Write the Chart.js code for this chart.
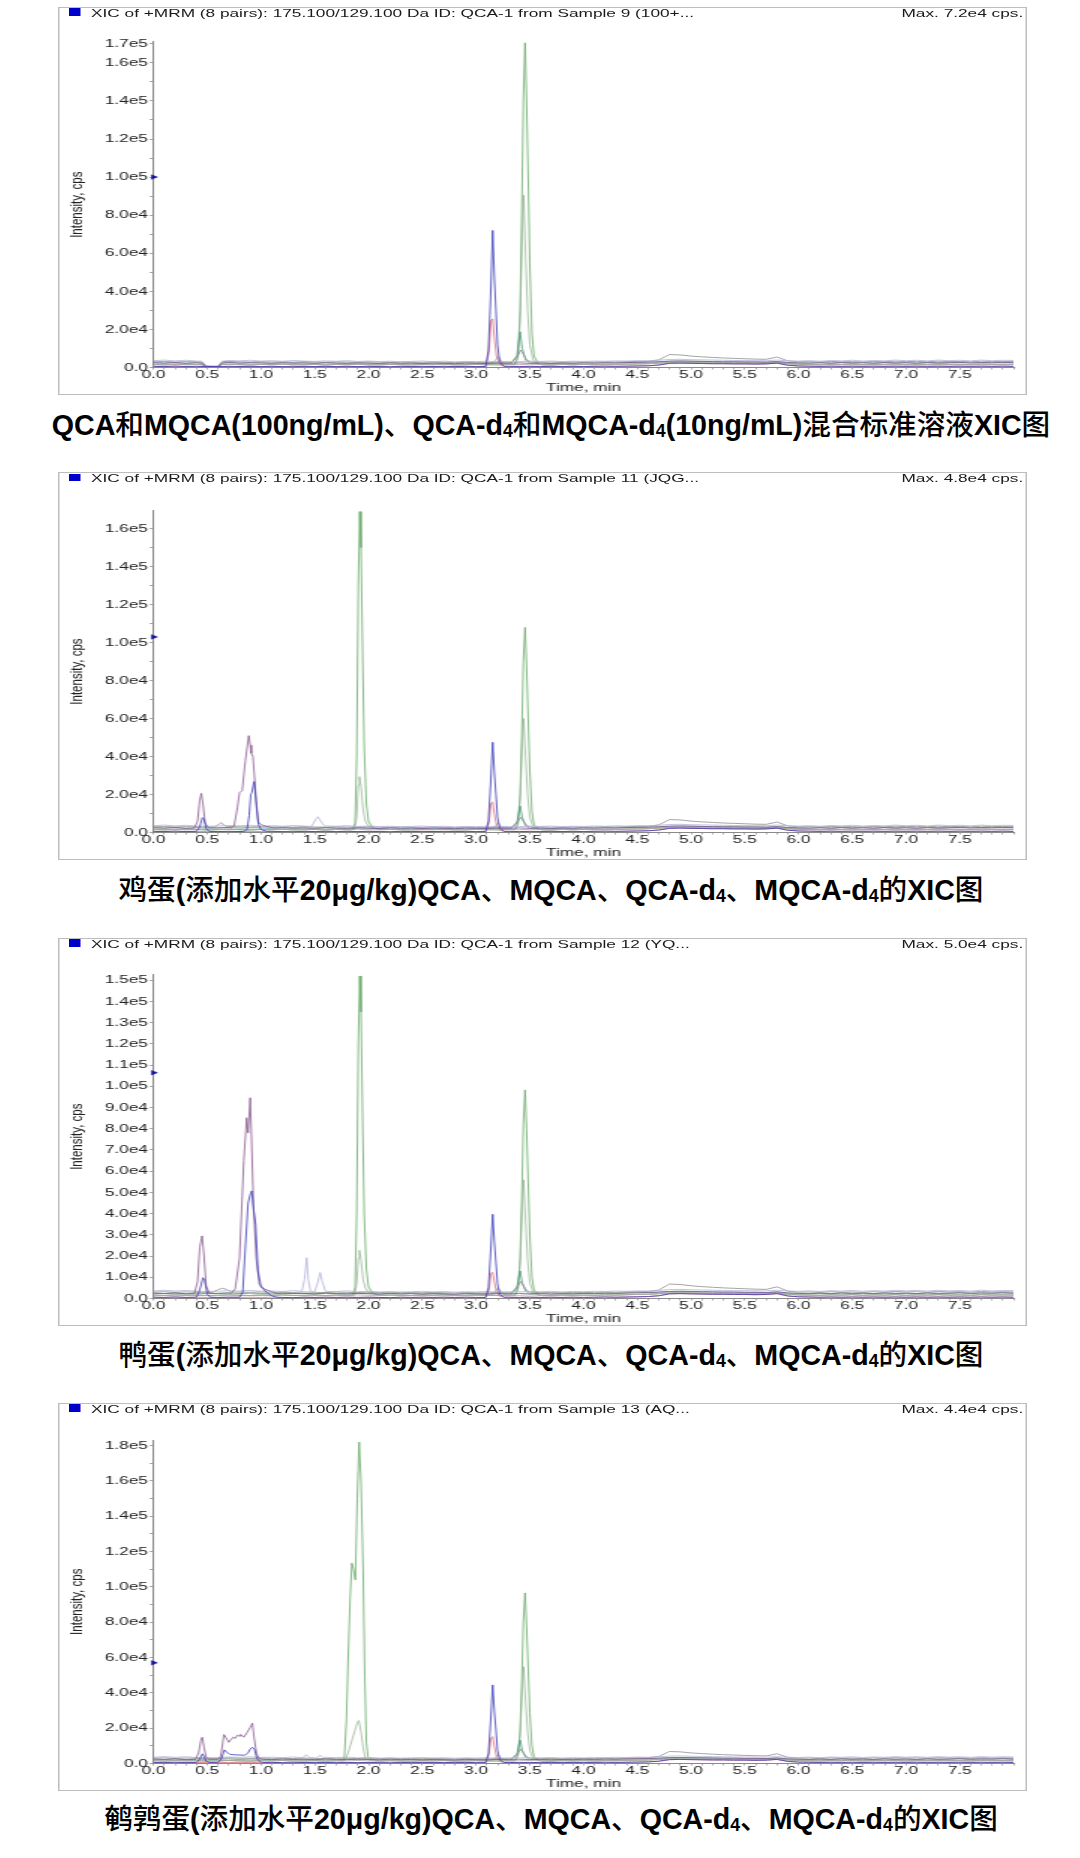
<!DOCTYPE html>
<html>
<head>
<meta charset="utf-8">
<script src="https://cdn.jsdelivr.net/npm/chart.js@4/dist/chart.umd.min.js"></script>
<style>
  html,body{margin:0;padding:0;background:#fff;}
  body{width:1080px;height:1858px;position:relative;overflow:hidden;}
  .panel{position:absolute;left:58px;width:646px;height:388px;transform:scaleX(1.5);transform-origin:0 0;}
  .frame{position:absolute;left:0;top:0;width:646px;height:388px;box-sizing:border-box;border:1px solid #bdbdbd;}
  .panel canvas{position:absolute;left:0;top:0;}
  .sq{position:absolute;left:7.3px;top:1.3px;width:7.3px;height:7.7px;background:#0000cc;}
  .hdr,.mx{position:absolute;top:0;font-family:'Liberation Sans',Arial,sans-serif;font-size:11.5px;line-height:12px;color:#1a1a1a;white-space:nowrap;}
  .hdr{left:22px;}
  .mx{right:2.5px;}
  .cap{position:absolute;left:1px;width:1100px;text-align:center;white-space:nowrap;
       font-family:'Liberation Sans',Arial,'Noto Sans CJK SC',sans-serif;font-weight:bold;font-size:28.6px;line-height:34px;color:#000;}
  .cap .z{font-family:'Noto Sans CJK SC',sans-serif;font-weight:500;}
  .cap .s{font-size:0.62em;vertical-align:-0.12em;}
</style>
</head>
<body>

<div class="panel" style="top:7px">
  <div class="frame"></div>
  <canvas id="c0" width="646" height="388"></canvas>
  <div class="sq"></div>
  <div class="hdr" id="h0"></div>
  <div class="mx" id="m0"></div>
</div>
<div class="cap" style="top:406px">QCA<span class="z">和</span>MQCA(100ng/mL)<span class="z">、</span>QCA-d<span class="s">4</span><span class="z">和</span>MQCA-d<span class="s">4</span>(10ng/mL)<span class="z">混合标准溶液</span>XIC<span class="z">图</span></div>

<div class="panel" style="top:472.3px">
  <div class="frame"></div>
  <canvas id="c1" width="646" height="388"></canvas>
  <div class="sq"></div>
  <div class="hdr" id="h1"></div>
  <div class="mx" id="m1"></div>
</div>
<div class="cap" style="top:871px"><span class="z">鸡蛋</span>(<span class="z">添加水平</span>20μg/kg)QCA<span class="z">、</span>MQCA<span class="z">、</span>QCA-d<span class="s">4</span><span class="z">、</span>MQCA-d<span class="s">4</span><span class="z">的</span>XIC<span class="z">图</span></div>

<div class="panel" style="top:937.6px">
  <div class="frame"></div>
  <canvas id="c2" width="646" height="388"></canvas>
  <div class="sq"></div>
  <div class="hdr" id="h2"></div>
  <div class="mx" id="m2"></div>
</div>
<div class="cap" style="top:1335.6px"><span class="z">鸭蛋</span>(<span class="z">添加水平</span>20μg/kg)QCA<span class="z">、</span>MQCA<span class="z">、</span>QCA-d<span class="s">4</span><span class="z">、</span>MQCA-d<span class="s">4</span><span class="z">的</span>XIC<span class="z">图</span></div>

<div class="panel" style="top:1402.9px">
  <div class="frame"></div>
  <canvas id="c3" width="646" height="388"></canvas>
  <div class="sq"></div>
  <div class="hdr" id="h3"></div>
  <div class="mx" id="m3"></div>
</div>
<div class="cap" style="top:1800px"><span class="z">鹌鹑蛋</span>(<span class="z">添加水平</span>20μg/kg)QCA<span class="z">、</span>MQCA<span class="z">、</span>QCA-d<span class="s">4</span><span class="z">、</span>MQCA-d<span class="s">4</span><span class="z">的</span>XIC<span class="z">图</span></div>

<script>
// ---------------- DATA ----------------
const HEADERS = [
  'XIC of +MRM (8 pairs): 175.100/129.100 Da ID: QCA-1 from Sample 9 (100+...',
  'XIC of +MRM (8 pairs): 175.100/129.100 Da ID: QCA-1 from Sample 11 (JQG...',
  'XIC of +MRM (8 pairs): 175.100/129.100 Da ID: QCA-1 from Sample 12 (YQ...',
  'XIC of +MRM (8 pairs): 175.100/129.100 Da ID: QCA-1 from Sample 13 (AQ...'
];
const MAX_TEXT = ['Max. 7.2e4 cps.', 'Max. 4.8e4 cps.', 'Max. 5.0e4 cps.', 'Max. 4.4e4 cps.'];
const Y_MAX = [171000, 169500, 152500, 183200];
const Y_LABEL_STEP = [20000, 20000, 10000, 20000];
const Y_EXTRA_LABEL = [170000, null, null, null];
const Y_MINOR_STEP = 10000;
const X_LABELS = ['0.0','0.5','1.0','1.5','2.0','2.5','3.0','3.5','4.0','4.5','5.0','5.5','6.0','6.5','7.0','7.5'];
const MARKER_Y = [100000, 103000, 106400, 57000];
const X_TITLE = 'Time, min';
const Y_TITLE = 'Intensity, cps';

// common baseline grid (min)
const BASE_T = [0,0.1,0.2,0.3,0.4,0.5,0.6,0.7,0.8,0.9,
  1,1.1,1.2,1.3,1.4,1.5,1.6,1.7,1.8,1.9,
  2,2.1,2.2,2.3,2.4,2.5,2.6,2.7,2.8,2.9,
  3,3.1,3.2,3.3,3.4,3.5,3.6,3.7,3.8,3.9,
  4,4.1,4.2,4.3,4.4,4.5,4.6,4.7,4.8,4.9,
  5,5.1,5.2,5.3,5.4,5.5,5.6,5.7,5.8,5.9,
  6,6.1,6.2,6.3,6.4,6.5,6.6,6.7,6.8,6.9,
  7,7.1,7.2,7.3,7.4,7.5,7.6,7.7,7.8,7.9,
  8];
const B0 = [600,500,700,500,600,500,500,600,500,600,
  500,600,500,400,600,500,600,500,600,500,
  600,500,400,600,500,600,500,600,500,600,
  500,600,500,600,500,600,500,600,500,600,
  500,600,700,600,700,800,900,1300,2200,2300,
  2200,2100,2000,2000,1900,1900,1800,1900,2300,1200,
  800,700,600,700,600,700,600,700,600,700,
  600,700,600,700,600,700,600,700,600,700,
  600];
const B1 = [1600,1400,1700,1500,1600,1400,1500,1700,1500,1400,
  1600,1500,1700,1400,1500,1600,1400,1600,1500,1700,
  1500,1400,1600,1500,1400,1600,1500,1700,1400,1500,
  1600,1500,1400,1600,1500,1700,1500,1400,1600,1500,
  1600,1500,1700,1600,1800,1900,2000,2300,2600,2700,
  2600,2500,2400,2400,2300,2300,2200,2300,2500,2000,
  1700,1600,1500,1700,1600,1800,1500,1700,1600,1800,
  1500,1700,1600,1800,1600,1700,1500,1800,1600,1700,
  1600];
const B2 = [2500,2300,2600,2200,2500,2300,2400,2600,2300,2500,
  2400,2200,2500,2300,2400,2200,2500,2300,2200,2400,
  2300,2100,2400,2200,2300,2100,2300,2200,2000,2300,
  2200,2100,2300,2200,2400,2200,2300,2100,2300,2200,
  2400,2300,2500,2400,2600,2700,2800,3000,3300,3400,
  3300,3200,3100,3000,3000,2900,2900,2800,3100,2600,
  2400,2300,2500,2300,2600,2400,2500,2300,2600,2400,
  2500,2300,2600,2400,2500,2700,2400,2600,2500,2700,
  2500];
const B3 = [3000,3200,2900,3100,3000,2900,2900,3200,3000,2900,
  3100,2900,3000,2800,3100,2900,2800,3000,2900,2800,
  3000,2800,2700,2900,2800,2700,2900,2700,2600,2800,
  2700,2600,2800,2700,2800,2700,2900,2800,2700,2900,
  2800,2900,3000,2900,3100,3200,3300,4000,6800,6600,
  6000,5600,5300,5000,4800,4600,4400,4300,5500,3500,
  3000,3100,2900,3200,3000,3100,2900,3200,3000,3300,
  3100,3200,3000,3300,3100,3200,3000,3300,3100,3200,
  3100];
const B4 = [3600,3900,3500,3800,3400,3300,3400,3700,3500,3800,
  3400,3600,3300,3700,3400,3200,3500,3300,3600,3200,
  3400,3100,3300,3000,3200,3400,3100,3300,3000,3200,
  3100,3300,3000,3200,3100,3300,3200,3400,3100,3300,
  3200,3400,3300,3500,3400,3600,3500,3800,4200,4300,
  4100,4000,3900,3800,3700,3700,3600,3600,3900,3500,
  3400,3600,3300,3700,3500,3800,3400,3700,3500,3900,
  3600,3800,3500,3900,3600,3800,3500,3900,3600,3800,
  3700];

// ---- Panel 1: standard solution ----
const P1_BLUE = [[[3.09,500],[3.115,9000],[3.135,36000],[3.155,72000],[3.17,48000],[3.185,30000],[3.2,12000],[3.22,3000],[3.26,600]]];
const P1_RED = [[[3.09,500],[3.12,8000],[3.14,24500],[3.155,25500],[3.17,16000],[3.19,6000],[3.22,1500],[3.26,600]]];
const P1_GREEN1 = [[[0.45,1500],[0.49,400],[0.6,400],[0.64,1600]],
  [[3.36,1500],[3.39,6000],[3.41,30000],[3.425,80000],[3.44,140000],[3.456,170500],[3.47,140000],[3.485,100000],[3.5,55000],[3.52,18000],[3.54,6000],[3.58,2000],[3.62,1400]]];
const P1_GREEN2 = [[[0.45,1500],[0.49,400],[0.6,400],[0.64,1600]],
  [[3.36,1500],[3.39,5000],[3.41,25000],[3.43,70000],[3.443,90500],[3.46,60000],[3.48,30000],[3.5,12000],[3.53,4000],[3.57,1800],[3.62,1400]]];
const P1_TEAL = [[[0.45,2300],[0.49,500],[0.6,500],[0.64,2400]],
  [[3.33,2200],[3.38,6000],[3.41,18800],[3.43,10000],[3.46,4000],[3.5,2200]]];
const P1_GREY = [[[0.45,2900],[0.49,700],[0.6,600],[0.64,3100]],
  [[3.33,2700],[3.39,6500],[3.415,9200],[3.44,7000],[3.47,4000],[3.52,2700]]];
const P1_GREY2 = [[[0.45,1500],[0.49,400],[0.6,400],[0.64,1600]],
  [[3.14,1500],[3.19,4500],[3.205,5700],[3.22,4600],[3.27,1500]]];
const P1_PURPLE = [[[0.45,2300],[0.49,500],[0.6,500],[0.64,2400]]];
const P1_LAV = [[[0.45,3300],[0.49,900],[0.6,700],[0.64,3400]]];

// ---- Panel 2: chicken egg ----
const P2_BLUE = [
  [[0.40,600],[0.43,3000],[0.455,7800],[0.47,7000],[0.49,2000],[0.52,600]],
  [[0.84,600],[0.87,1500],[0.89,9000],[0.905,20000],[0.915,21000],[0.935,26800],[0.945,22000],[0.96,12000],[0.975,4500],[1.0,1500],[1.05,700]],
  [[3.09,500],[3.115,6000],[3.135,25000],[3.155,47500],[3.17,32000],[3.185,20000],[3.2,8000],[3.22,2500],[3.26,600]]];
const P2_RED = [[[3.09,500],[3.12,5000],[3.14,15500],[3.155,16000],[3.17,10000],[3.19,4000],[3.22,1200],[3.26,600]]];
const P2_PURPLE = [
  [[0.38,2300],[0.41,6000],[0.43,17000],[0.445,20600],[0.46,15000],[0.48,5000],[0.51,2500]],
  [[0.72,2400],[0.75,3500],[0.78,13000],[0.8,21000],[0.825,22000],[0.855,38000],[0.886,51000],[0.9,46000],[0.91,41700],[0.925,40000],[0.945,25000],[0.955,17000],[0.975,5500],[1.0,4200],[1.05,3200],[1.12,2400]]];
const P2_GREY = [
  [[0.57,2900],[0.61,4500],[0.63,5200],[0.65,4000],[0.69,2900]],
  [[3.33,2700],[3.39,6000],[3.415,8000],[3.44,6000],[3.47,3800],[3.52,2700]]];
const P2_LAV = [[[1.47,3200],[1.51,7000],[1.53,8300],[1.55,6500],[1.59,3300]]];
const P2_GREEN1 = [
  [[1.85,1500],[1.875,5000],[1.89,40000],[1.905,130000],[1.918,169000],[1.93,150000],[1.945,95000],[1.96,45000],[1.98,15000],[2.0,6000],[2.04,2500],[2.1,1600]],
  [[3.36,1500],[3.39,5000],[3.41,20000],[3.425,50000],[3.44,90000],[3.456,108000],[3.47,88000],[3.485,60000],[3.5,33000],[3.52,11000],[3.54,4000],[3.58,1800],[3.62,1400]]];
const P2_GREEN2 = [
  [[1.87,1500],[1.89,8000],[1.905,25000],[1.915,29400],[1.93,24000],[1.95,12000],[1.97,6000],[2.0,3500],[2.05,2200],[2.1,1500]],
  [[3.36,1500],[3.39,4000],[3.41,17000],[3.43,46000],[3.443,60000],[3.46,40000],[3.48,20000],[3.5,8000],[3.53,3000],[3.57,1700],[3.62,1400]]];
const P2_TEAL = [[[3.33,2200],[3.38,5000],[3.41,14000],[3.43,8000],[3.46,3500],[3.5,2200]]];
const P2_GREY2 = [[[3.14,1500],[3.19,4000],[3.205,5000],[3.22,4000],[3.27,1500]]];

// ---- Panel 3: duck egg ----
const P3_BLUE = [
  [[0.40,600],[0.43,4000],[0.46,9800],[0.475,8500],[0.5,2000],[0.53,600]],
  [[0.8,600],[0.83,3000],[0.856,25500],[0.88,45000],[0.9,49000],[0.914,50700],[0.93,42000],[0.95,35000],[0.972,13000],[1.0,5500],[1.05,3000],[1.1,1200],[1.15,600]],
  [[3.09,500],[3.115,5000],[3.135,21000],[3.155,39700],[3.17,27000],[3.185,17000],[3.2,7000],[3.22,2000],[3.26,600]]];
const P3_RED = [[[3.09,500],[3.12,4000],[3.14,12000],[3.155,12300],[3.17,8000],[3.19,3000],[3.22,1000],[3.26,600]]];
const P3_PURPLE = [
  [[0.38,2300],[0.41,8000],[0.43,24000],[0.452,29500],[0.47,20000],[0.49,6000],[0.52,2400]],
  [[0.72,2400],[0.76,4500],[0.8,19000],[0.84,65000],[0.867,85200],[0.88,78000],[0.9,94600],[0.915,70000],[0.93,44500],[0.955,19000],[0.985,6600],[1.03,4500],[1.1,3200],[1.15,2400]]];
const P3_GREY = [
  [[0.55,2900],[0.6,4200],[0.64,4800],[0.68,4300],[0.72,3100]],
  [[3.33,2700],[3.39,6000],[3.415,8000],[3.44,6000],[3.47,3800],[3.52,2700]]];
const P3_LAV = [
  [[1.38,3400],[1.405,9000],[1.425,19200],[1.44,9000],[1.46,3500]],
  [[1.51,3200],[1.53,8000],[1.55,12200],[1.57,8000],[1.6,3300]]];
const P3_GREEN1 = [
  [[1.85,1500],[1.875,5000],[1.89,40000],[1.905,120000],[1.918,152000],[1.93,135000],[1.945,85000],[1.96,40000],[1.98,14000],[2.0,5500],[2.04,2500],[2.1,1600]],
  [[3.36,1500],[3.39,5000],[3.41,19000],[3.425,46000],[3.44,82000],[3.456,98300],[3.47,80000],[3.485,55000],[3.5,30000],[3.52,10000],[3.54,4000],[3.58,1800],[3.62,1400]]];
const P3_GREEN2 = [
  [[1.87,1500],[1.89,7000],[1.905,19000],[1.915,22700],[1.93,18000],[1.95,9000],[1.97,5000],[2.0,3000],[2.05,2200],[2.1,1500]],
  [[3.36,1500],[3.39,4000],[3.41,16000],[3.43,43000],[3.443,55900],[3.46,37000],[3.48,18000],[3.5,7500],[3.53,3000],[3.57,1700],[3.62,1400]]];
const P3_TEAL = [[[3.33,2200],[3.38,5000],[3.41,13000],[3.43,7500],[3.46,3500],[3.5,2200]]];
const P3_GREY2 = [[[3.14,1500],[3.19,4000],[3.205,5000],[3.22,4000],[3.27,1500]]];

// ---- Panel 4: quail egg ----
const P4_BLUE = [
  [[0.40,600],[0.43,2500],[0.455,5500],[0.47,4000],[0.49,1200],[0.52,600]],
  [[0.6,600],[0.63,2500],[0.66,7700],[0.68,6500],[0.71,5200],[0.76,4900],[0.8,4800],[0.85,4700],[0.88,6000],[0.9,8200],[0.92,9200],[0.94,8000],[0.96,3000],[0.99,1000],[1.02,600]],
  [[3.09,500],[3.115,5500],[3.135,23000],[3.155,44500],[3.17,30000],[3.185,19000],[3.2,7500],[3.22,2200],[3.26,600]]];
const P4_RED = [[[3.09,500],[3.12,5000],[3.14,14500],[3.155,15200],[3.17,10000],[3.19,4000],[3.22,1200],[3.26,600]]];
const P4_PURPLE = [
  [[0.39,2300],[0.42,6000],[0.44,13000],[0.454,14900],[0.47,9000],[0.49,3500],[0.52,2400]],
  [[0.6,2400],[0.625,4000],[0.645,12000],[0.655,16400],[0.67,15000],[0.7,12000],[0.72,13500],[0.74,14900],[0.76,14200],[0.78,16000],[0.8,15500],[0.81,16500],[0.84,14900],[0.87,17500],[0.9,20500],[0.92,22800],[0.935,15000],[0.95,9000],[0.96,5500],[0.98,3000],[1.02,2400]]];
const P4_GREY = [[[3.33,2700],[3.39,6000],[3.415,8100],[3.44,6000],[3.47,3800],[3.52,2700]]];
const P4_LAV = [
  [[1.39,3300],[1.42,5000],[1.45,3400]],
  [[1.52,3200],[1.55,4700],[1.58,3300]]];
const P4_GREEN1 = [
  [[1.76,1500],[1.775,3000],[1.795,25000],[1.81,58000],[1.83,95000],[1.845,113500],[1.86,110000],[1.878,104000],[1.895,150000],[1.913,182000],[1.93,160000],[1.95,110000],[1.965,50000],[1.98,12000],[1.995,3800],[2.03,2500],[2.08,1600]],
  [[3.36,1500],[3.39,5000],[3.41,19000],[3.425,45000],[3.44,80000],[3.456,96600],[3.47,78000],[3.485,54000],[3.5,29000],[3.52,10000],[3.54,4000],[3.58,1800],[3.62,1400]]];
const P4_GREEN2 = [
  [[1.78,1500],[1.81,6000],[1.845,13000],[1.87,18000],[1.895,23000],[1.91,24300],[1.93,18000],[1.95,9000],[1.97,3000],[2.0,2000],[2.05,1500]],
  [[3.36,1500],[3.39,4000],[3.41,15500],[3.43,42000],[3.443,54800],[3.46,36000],[3.48,18000],[3.5,7500],[3.53,3000],[3.57,1700],[3.62,1400]]];
const P4_TEAL = [[[3.33,2200],[3.38,5000],[3.41,13300],[3.43,7500],[3.46,3500],[3.5,2200]]];
const P4_GREY2 = [[[3.14,1500],[3.19,4000],[3.205,5000],[3.22,4000],[3.27,1500]]];

// ---------------- STYLE ----------------
const COLORS = {
  blue:'#3c3cb8', purple:'#8a5a90', lav:'#b2b2dc', grey:'#8e8e8e', grey2:'#a8a8a8',
  red:'#e0707e', teal:'#4c9a80', green2:'#9ab89a', green1:'#68aa68'
};
const FONT = "'Liberation Sans', Arial, sans-serif";

// merge a baseline with peak/feature point lists
function series(base, feats) {
  const ranges = feats.map(f => [f[0][0], f[f.length - 1][0]]);
  const pts = [];
  BASE_T.forEach((t, i) => {
    if (!ranges.some(r => t >= r[0] && t <= r[1])) pts.push({x: t, y: base[i]});
  });
  feats.forEach(f => f.forEach(p => pts.push({x: p[0], y: p[1]})));
  pts.sort((a, b) => a.x - b.x);
  return pts;
}

const PANEL_TRACES = [
  {blue:P1_BLUE, purple:P1_PURPLE, lav:P1_LAV, grey:P1_GREY, grey2:P1_GREY2, red:P1_RED, teal:P1_TEAL, green2:P1_GREEN2, green1:P1_GREEN1},
  {blue:P2_BLUE, purple:P2_PURPLE, lav:P2_LAV, grey:P2_GREY, grey2:P2_GREY2, red:P2_RED, teal:P2_TEAL, green2:P2_GREEN2, green1:P2_GREEN1},
  {blue:P3_BLUE, purple:P3_PURPLE, lav:P3_LAV, grey:P3_GREY, grey2:P3_GREY2, red:P3_RED, teal:P3_TEAL, green2:P3_GREEN2, green1:P3_GREEN1},
  {blue:P4_BLUE, purple:P4_PURPLE, lav:P4_LAV, grey:P4_GREY, grey2:P4_GREY2, red:P4_RED, teal:P4_TEAL, green2:P4_GREEN2, green1:P4_GREEN1}
];
const TRACE_BASE = {blue:B0, purple:B2, lav:B4, grey:B3, grey2:B1, red:B0, teal:B2, green2:B1, green1:B1};
const TRACE_ORDER = ['blue','purple','lav','grey','grey2','red','teal','green2','green1'];

const TOP_PAD = [34.9, 38.6, 36.9, 37.0];

function fmtY(v) {
  if (v === 0) return '0.0';
  const e = Math.floor(Math.log10(v) + 1e-9);
  return (v / Math.pow(10, e)).toFixed(1) + 'e' + e;
}

for (let i = 0; i < 4; i++) {
  document.getElementById('h' + i).textContent = HEADERS[i];
  document.getElementById('m' + i).textContent = MAX_TEXT[i];

  const traces = PANEL_TRACES[i];
  const datasets = [{
    type: 'scatter',
    data: [{x: 0, y: MARKER_Y[i]}],
    pointStyle: 'triangle', pointRotation: 90, pointRadius: 2.6,
    backgroundColor: '#10109a', borderColor: '#10109a', borderWidth: 0.5,
    clip: false
  }];
  TRACE_ORDER.forEach(name => {
    datasets.push({
      type: 'line',
      label: name,
      data: series(TRACE_BASE[name], traces[name]),
      borderColor: COLORS[name],
      borderWidth: 0.8,
      pointRadius: 0,
      fill: false,
      tension: 0
    });
  });

  const step = Y_LABEL_STEP[i];
  const extra = Y_EXTRA_LABEL[i];
  const yMax = Y_MAX[i];
  new Chart(document.getElementById('c' + i), {
    data: {datasets},
    options: {
      responsive: false,
      animation: false,
      events: [],
      layout: {padding: {left: 0, right: 9, top: TOP_PAD[i], bottom: 0}},
      plugins: {legend: {display: false}, tooltip: {enabled: false}},
      scales: {
        x: {
          type: 'linear', min: 0, max: 8,
          afterFit: s => { s.height = 27.5; },
          afterBuildTicks: s => {
            const t = [];
            for (let k = 0; k <= 80; k++) t.push({value: k / 10});
            s.ticks = t;
          },
          border: {display: true, color: '#8a8a8a', width: 1},
          grid: {drawOnChartArea: false, drawTicks: true, tickLength: 2, tickColor: '#9a9a9a', tickWidth: 0.8},
          ticks: {
            autoSkip: false, maxRotation: 0, minRotation: 0, padding: 0,
            color: '#222', font: {family: FONT, size: 11.5, lineHeight: 1},
            callback: v => { const k = Math.round(v * 10); return (k % 5 === 0 && k / 5 < X_LABELS.length) ? X_LABELS[k / 5] : ''; }
          },
          title: {display: true, text: X_TITLE, color: '#222', padding: {top: 0, bottom: 0}, font: {family: FONT, size: 11.5}}
        },
        y: {
          type: 'linear', min: 0, max: yMax,
          afterFit: s => { s.width = 63.67; },
          afterBuildTicks: s => {
            const t = [];
            for (let v = 0; v <= yMax; v += Y_MINOR_STEP) t.push({value: v});
            s.ticks = t;
          },
          border: {display: true, color: '#8a8a8a', width: 1},
          grid: {drawOnChartArea: false, drawTicks: true, tickLength: 2.5, tickColor: '#8a8a8a', tickWidth: 0.8},
          ticks: {
            autoSkip: false, padding: 1.2,
            color: '#222', font: {family: FONT, size: 11.5},
            callback: v => { const r = Math.round(v); return (r % step === 0 || r === extra) ? fmtY(r) : ''; }
          },
          title: {display: true, text: Y_TITLE, color: '#222', padding: {top: 5.8, bottom: 0}, font: {family: FONT, size: 11.5}}
        }
      }
    }
  });
}
</script>
</body>
</html>
